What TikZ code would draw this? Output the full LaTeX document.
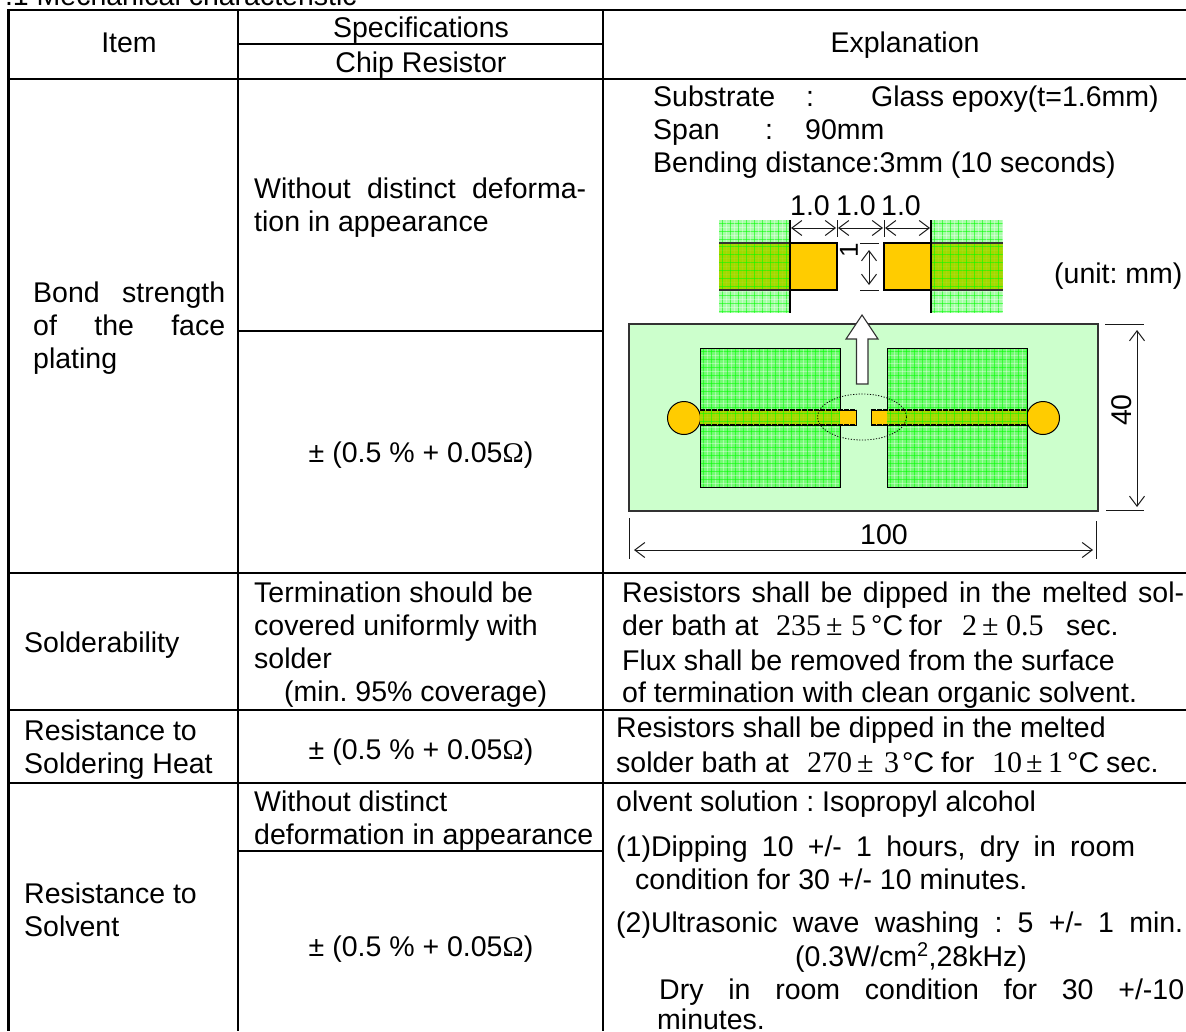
\documentclass[tikz,border=0pt]{standalone}
\usepackage{fontspec}
\setmainfont{Liberation Sans}
\newfontfamily\serifnum{Liberation Serif}
\usetikzlibrary{arrows.meta}
\frenchspacing
\definecolor{boardgreen}{HTML}{CCFFCC}
\definecolor{padgreen}{HTML}{74FA74}
\definecolor{detailgreen}{HTML}{A8FCA8}
\definecolor{stripgreen}{HTML}{A4D800}
\definecolor{chipyellow}{HTML}{FFCC00}
\newcommand{\js}[2]{\makebox[#1pt][s]{#2}}
\newcommand{\cell}[2]{\makebox[#1pt][l]{#2}}
\newcommand{\num}[1]{{\serifnum\fontsize{30}{33}\selectfont #1}}
\newcommand{\meshfill}[6]{%
  \begin{scope}
    \clip (#1,#2) rectangle (#3,#4);
    \fill[#5] (#1,#2) rectangle (#3,#4);
    \foreach \k in {0,...,45}{
      \draw[green,line width=1pt,opacity=.55] ({#1+3+8*\k},#2) -- ({#1+3+8*\k},#4);
      \draw[green,line width=1pt,opacity=.55] (#1,{#2+3+8*\k}) -- (#3,{#2+3+8*\k});
      \draw[white,line width=1pt,opacity=#6] ({#1+7+8*\k},#2) -- ({#1+7+8*\k},#4);
      \draw[white,line width=1pt,opacity=#6] (#1,{#2+7+8*\k}) -- (#3,{#2+7+8*\k});
    }
  \end{scope}}
\tikzset{
  rule/.style={line width=2.2pt,black},
  txt/.style={anchor=base west,inner sep=0pt,font=\fontsize{28.5}{33}\selectfont},
  ctxt/.style={anchor=base,inner sep=0pt,font=\fontsize{28.5}{33}\selectfont},
  dim/.style={line width=1pt,black!90,{Straight Barb[length=10pt,width=15pt]}-{Straight Barb[length=10pt,width=15pt]}},
  tick/.style={line width=1pt,black!90},
  edge/.style={line width=1pt,black},
  heavy/.style={line width=2pt,black},
}
\begin{document}
\begin{tikzpicture}[x=1pt,y=-1pt]
\useasboundingbox (0,0) rectangle (1186,1031);
\fill[white] (0,0) rectangle (1186,1031);
% title, cut off by the page edge as in the reference
\node[txt] (title) at (-11,5) {7.1 Mechanical characteristic};
% table rules
\draw[rule] (8.5,10) -- (1186,10);
\draw[rule] (8.5,9) -- (8.5,1031);
\draw[rule] (238,10) -- (238,1031);
\draw[rule] (603,10) -- (603,1031);
\draw[rule] (238,44) -- (603,44);
\draw[rule] (8.5,79) -- (1186,79);
\draw[rule] (238,331) -- (603,331);
\draw[rule] (8.5,573) -- (1186,573);
\draw[rule] (8.5,710) -- (1186,710);
\draw[rule] (8.5,783) -- (1186,783);
\draw[rule] (238,851) -- (603,851);
% header
\node[ctxt] (item) at (129,52) {Item};
\node[ctxt] (spec) at (421,37) {Specifications};
\node[ctxt] (chip) at (421,72) {Chip Resistor};
\node[ctxt] (expl) at (905,52) {Explanation};
% row 1
\node[txt] (bond1) at (33,302) {\js{192}{Bond strength}};
\node[txt] (bond2) at (33,335) {\js{192}{of the face}};
\node[txt] (bond3) at (33,368) {plating};
\node[txt] (wd1) at (254,198) {\js{332}{Without distinct deforma-}};
\node[txt] (wd2) at (254,231) {tion in appearance};
\node[ctxt] (tol1) at (421,462) {± (0.5 \% + 0.05{\serifnum Ω})};
\node[txt] (sub) at (653,106) {\cell{153}{Substrate}\cell{65}{:}Glass epoxy(t=1.6mm)};
\node[txt] (span) at (653,139) {\cell{112}{Span}\cell{40}{:}90mm};
\node[txt] (bend) at (653,172) {Bending distance:3mm (10 seconds)};
\node[txt] (unit) at (1054,283) {(unit: mm)};
% detail view
\meshfill{719}{220}{790}{313}{detailgreen}{.35}
\meshfill{931}{220}{1003}{313}{detailgreen}{.35}
\meshfill{719}{243}{790}{290}{stripgreen}{.05}
\meshfill{931}{243}{1003}{290}{stripgreen}{.05}
\draw[heavy,black!80] (719,243) -- (790,243) (719,290) -- (790,290) (931,243) -- (1003,243) (931,290) -- (1003,290);
\draw[heavy,fill=chipyellow] (790,243) rectangle (837,290);
\draw[heavy,fill=chipyellow] (884,243) rectangle (931,290);
\draw[heavy] (790,220) -- (790,313);
\draw[heavy] (931,220) -- (931,313);
\draw[tick] (837,220) -- (837,237) (884,220) -- (884,237);
\draw[dim] (791,228) -- (836,228);
\draw[dim] (838,228) -- (883,228);
\draw[dim] (885,228) -- (930,228);
\draw[tick] (860,243) -- (879,243) (860,290) -- (879,290);
\draw[dim] (869,250) -- (869,285);
\node[ctxt] (d1) at (810,215) {1.0};
\node[ctxt] (d2) at (856,215) {1.0};
\node[ctxt] (d3) at (901,215) {1.0};
\node[anchor=center,inner sep=0pt,rotate=90,font=\fontsize{26}{28}\selectfont] (one) at (849,250) {1};
% board
\draw[line width=1.6pt,black!80,fill=boardgreen] (629,324) rectangle (1098,511);
\meshfill{700}{348}{840}{487}{padgreen}{.35}
\meshfill{887}{348}{1027}{487}{padgreen}{.35}
\draw[edge] (700,348) rectangle (840,487);
\draw[edge] (887,348) rectangle (1027,487);
\draw[edge,fill=chipyellow] (684,418) circle[radius=16.5];
\draw[edge,fill=chipyellow] (1043,418) circle[radius=16.5];
\draw[edge,fill=chipyellow] (700,410) rectangle (856,425);
\draw[edge,fill=chipyellow] (871,410) rectangle (1027,425);
\meshfill{700}{410}{840}{425}{stripgreen}{.05}
\meshfill{887}{410}{1027}{425}{stripgreen}{.05}
\draw[edge,line width=1.4pt,dash pattern=on 5pt off 1pt] (700,410) -- (856,410) (700,425) -- (856,425) (871,410) -- (1027,410) (871,425) -- (1027,425);
\draw[line width=.8pt,black,dash pattern=on 1.2pt off 1.6pt] (862,417) ellipse [x radius=44.5,y radius=23];
\draw[line width=1.1pt,black!80,fill=white,line join=miter] (856.5,384) -- (856.5,339) -- (846,339) -- (862,315) -- (878,339) -- (868,339) -- (868,384) -- cycle;
% dimensions
\draw[tick] (1105,324) -- (1144,324) (1106,510) -- (1144,510);
\draw[dim] (1137,330) -- (1137,507);
\node[ctxt,rotate=90] (h40) at (1131,410) {40};
\draw[tick] (629,518) -- (629,559) (1096,521) -- (1096,559);
\draw[dim] (634,550) -- (1093,550);
\node[ctxt] (w100) at (884,544) {100};
% row 2
\node[txt] (sold) at (24,652) {Solderability};
\node[txt] (t1) at (254,602) {Termination should be};
\node[txt] (t2) at (254,635) {covered uniformly with};
\node[txt] (t3) at (254,668) {solder};
\node[txt] (t4) at (284,701) {(min. 95\% coverage)};
\node[txt] (r1) at (622,602) {\js{562}{Resistors shall be dipped in the melted sol-}};
\node[txt] (r2) at (622,635) {\cell{154}{der bath at}\cell{50}{\num{235}}\cell{25}{\num{±}}\cell{20}{\num{5}}\cell{38}{°C}\cell{53}{for}\cell{20}{\num{2}}\cell{24}{\num{±}}\cell{60}{\num{0.5}}sec.};
\node[txt] (r3) at (622,670) {Flux shall be removed from the surface};
\node[txt] (r4) at (622,702) {of termination with clean organic solvent.};
% row 3
\node[txt] (rs1) at (24,740) {Resistance to};
\node[txt] (rs2) at (24,773) {Soldering Heat};
\node[ctxt] (tol2) at (421,759) {± (0.5 \% + 0.05{\serifnum Ω})};
\node[txt] (h1) at (616,737) {Resistors shall be dipped in the melted};
\node[txt] (h2) at (616,772) {\cell{191}{solder bath at}\cell{50}{\num{270}}\cell{27}{\num{±}}\cell{18}{\num{3}}\cell{39}{°C}\cell{51}{for}\cell{34}{\num{10}}\cell{22}{\num{±}}\cell{19}{\num{1}}\cell{39}{°C}sec.};
% row 4
\node[txt] (rv1) at (24,903) {Resistance to};
\node[txt] (rv2) at (24,936) {Solvent};
\node[txt] (w1) at (254,811) {Without distinct};
\node[txt] (w2) at (254,844) {deformation in appearance};
\node[ctxt] (tol3) at (421,956) {± (0.5 \% + 0.05{\serifnum Ω})};
\node[txt] (s0) at (616,811) {olvent solution : Isopropyl alcohol};
\node[txt] (s1) at (616,856) {\js{519}{(1)Dipping 10 +/- 1 hours, dry in room}};
\node[txt] (s2) at (635,889) {condition for 30 +/- 10 minutes.};
\node[txt] (s3) at (616,932) {\js{567}{(2)Ultrasonic wave washing : 5 +/- 1 min.}};
\node[txt] (s4) at (795,966) {(0.3W/cm\textsuperscript{2},28kHz)};
\node[txt] (s5) at (659,999) {\js{525}{Dry in room condition for 30 +/-10}};
\node[txt] (s6) at (657,1029) {minutes.};
\end{tikzpicture}
\end{document}
